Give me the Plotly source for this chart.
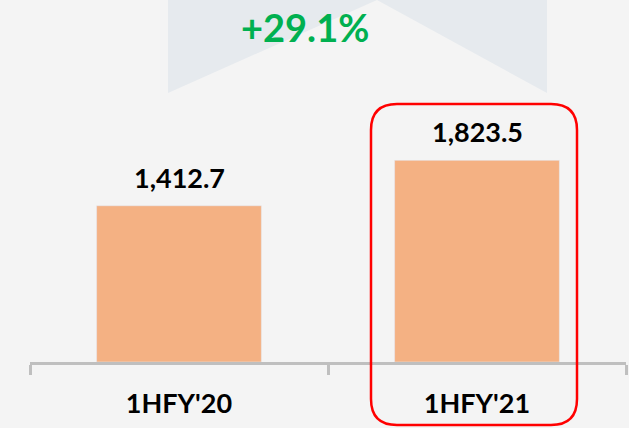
import plotly.graph_objects as go

periods = ["1HFY'20", "1HFY'21"]
revenue = [1412.7, 1823.5]

BAR_COLOR = "#F4B183"
AXIS_GREY = "#BFBFBF"
FONT = "Lato"

W, H = 629, 428
L, R, T, B = 30, 3, 0, 66


def px_x(p):
    return (p - L) / (W - L - R)


def px_y(p):
    return (H - B - p) / (H - T - B)


growth = revenue[1] / revenue[0] - 1

fig = go.Figure()
fig.add_trace(
    go.Bar(
        x=periods,
        y=revenue,
        marker_color=BAR_COLOR,
        showlegend=False,
        hoverinfo="x+y",
    )
)

# value labels above the bars
for p, v in zip(periods, revenue):
    fig.add_annotation(
        x=p, y=v, text=f"<b>{v:,.1f}</b>", showarrow=False,
        yanchor="bottom", yshift=10,
        font=dict(family=FONT, size=27, color="black"),
    )

# faint chevron in the background
chev = "M {a},{t} L {a},{b} L {m},{t} L {c},{b} L {c},{t} Z".format(
    a=px_x(168), c=px_x(547), m=px_x(377), t=px_y(0), b=px_y(93)
)
fig.add_shape(type="path", path=chev, xref="paper", yref="paper",
              fillcolor="#E6EAEE", line_width=0, layer="below")

# red rounded frame around the latest bar
x0, x1, y0, y1, r = px_x(371), px_x(577), px_y(104), px_y(425), 26
rx = r / (W - L - R)
ry = r / (H - T - B)
frame = (
    f"M {x0 + rx},{y0} L {x1 - rx},{y0} Q {x1},{y0} {x1},{y0 - ry} "
    f"L {x1},{y1 + ry} Q {x1},{y1} {x1 - rx},{y1} "
    f"L {x0 + rx},{y1} Q {x0},{y1} {x0},{y1 + ry} "
    f"L {x0},{y0 - ry} Q {x0},{y0} {x0 + rx},{y0} Z"
)
fig.add_shape(type="path", path=frame, xref="paper", yref="paper",
              line=dict(color="#FF0000", width=2.5), fillcolor="rgba(0,0,0,0)")

fig.add_annotation(
    x=px_x(305), y=px_y(2), xref="paper", yref="paper",
    yanchor="top",
    text=f"<b>{growth:+.1%}</b>", showarrow=False,
    font=dict(family=FONT, size=38, color="#00B050"),
)

fig.update_layout(
    width=W,
    height=H,
    margin=dict(l=L, r=R, t=T, b=B),
    paper_bgcolor="#F4F4F4",
    plot_bgcolor="rgba(0,0,0,0)",
    bargap=0.447,
    xaxis=dict(
        showline=True, linecolor=AXIS_GREY, linewidth=3,
        ticks="outside", tickson="boundaries", ticklen=10,
        tickwidth=3, tickcolor=AXIS_GREY,
        tickfont=dict(family=FONT, size=27, color="black"),
        ticklabelstandoff=16,
        tickprefix="<b>", ticksuffix="</b>",
        showgrid=False,
    ),
    yaxis=dict(visible=False, range=[0, (H - T - B) / 0.1106]),
)

fig.write_html(
    "out.html",
    config={"displayModeBar": False},
    post_script="document.body.style.margin='0';document.body.style.overflow='hidden';",
)
